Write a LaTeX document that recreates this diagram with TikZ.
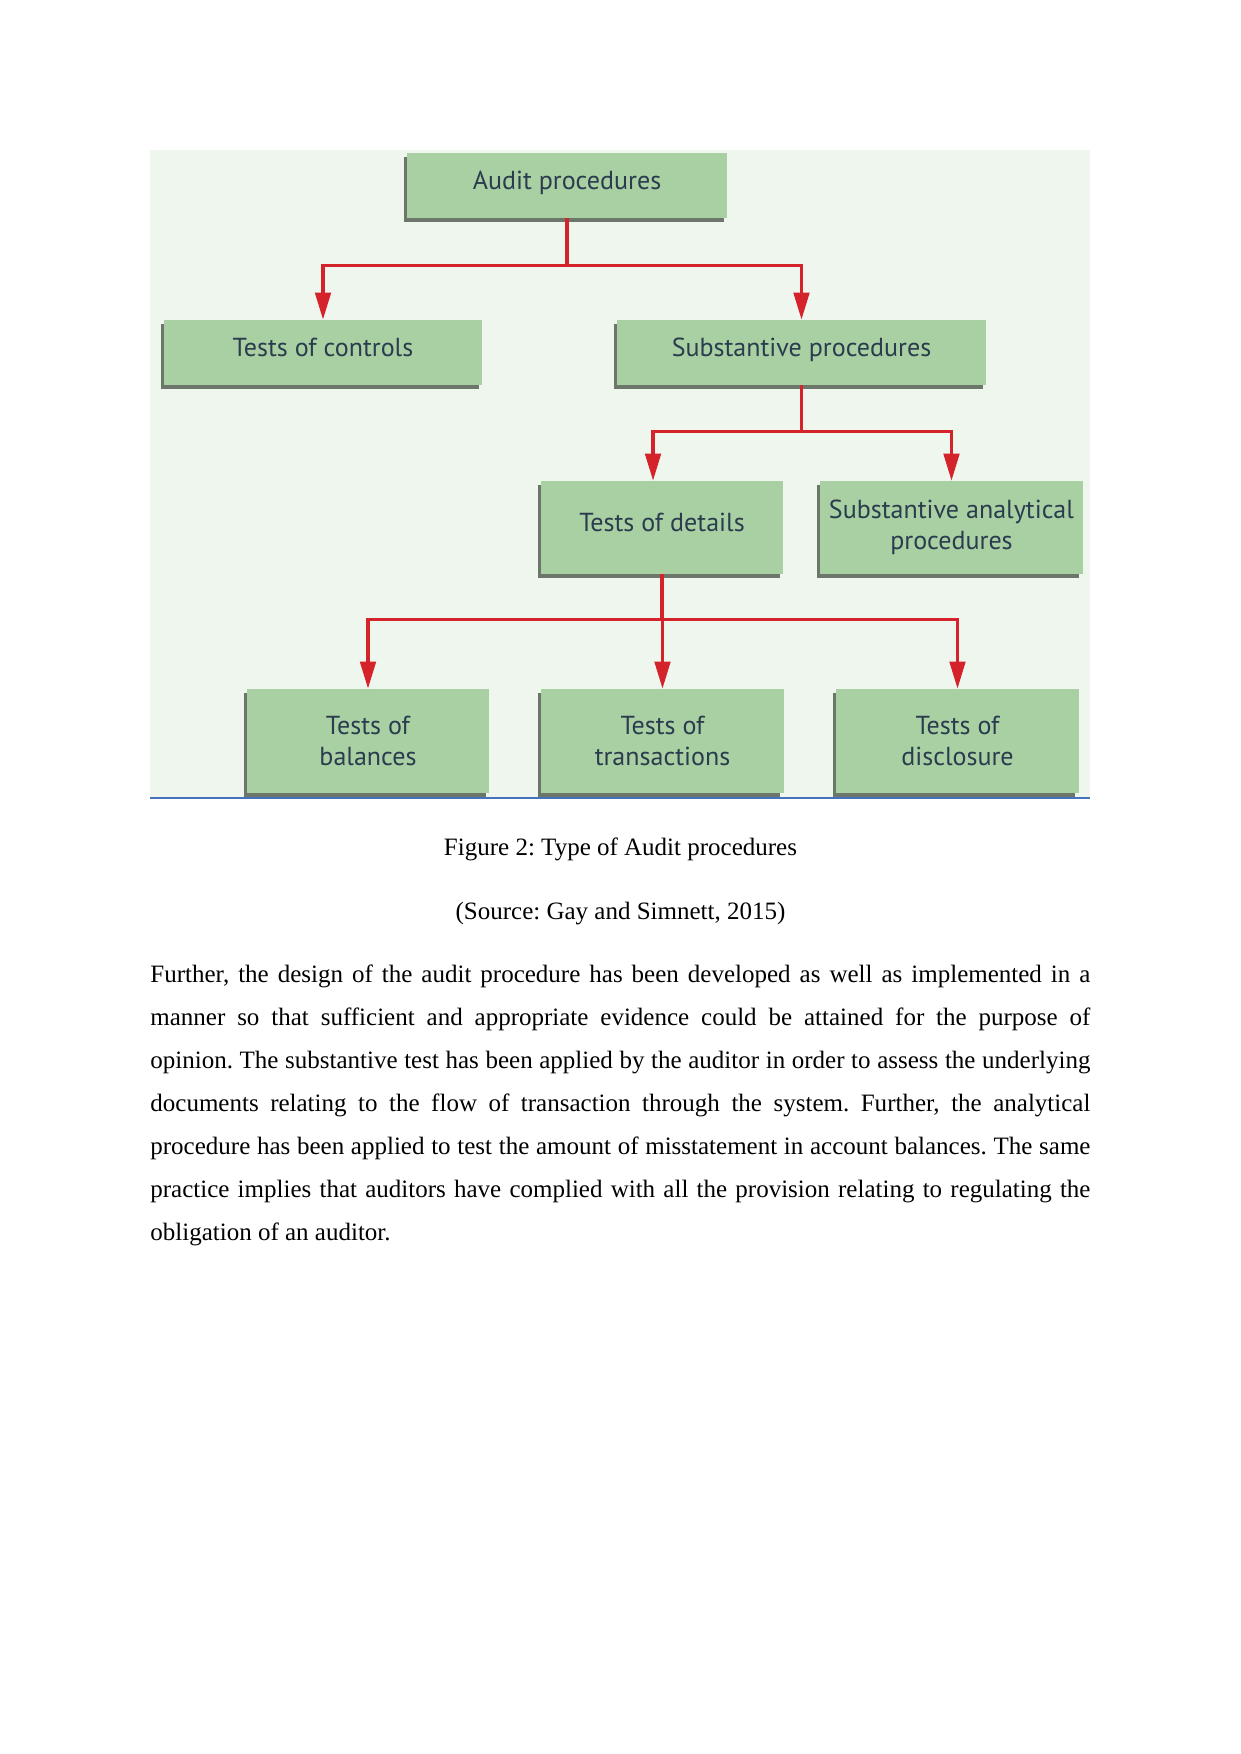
\documentclass[tikz,border=0pt]{standalone}
\usepackage{fontspec}
\setmainfont{Liberation Serif}
\newfontfamily\boxfont{PT Sans}
\usepackage{tikz}
\usetikzlibrary{arrows.meta, shadows}
\usepackage{xcolor}
\definecolor{clrBox} {RGB}{169,208,162}
\definecolor{clrPane}{RGB}{239,246,237}
\definecolor{clrShd} {RGB}{108,118,106}
\definecolor{clrArr} {RGB}{213, 35, 43}
\definecolor{clrTxt} {RGB}{ 42, 60, 78}
\definecolor{clrRule}{RGB}{ 70,115,190}
\tikzset{
  procbox/.style={rectangle, fill=clrBox, draw=none, text=clrTxt,
    font=\boxfont\fontsize{12.5}{14.8}\selectfont, align=center, inner sep=2pt,
    drop shadow={shadow xshift=-1.5pt, shadow yshift=-1.9pt, fill=clrShd, opacity=1}},
  oneline/.style={text height=9.5pt, text depth=5.5pt},
  conn/.style={-{Triangle[length=13pt,width=7.5pt]}, line width=1.5pt, color=clrArr},
  capnode/.style={font=\fontsize{12}{14}\selectfont, anchor=base, inner sep=0pt},
  paranode/.style={font=\fontsize{12}{20.64}\selectfont, text width=451.2pt,
    align=justify, anchor=base west, inner sep=0pt},
}

\begin{document}
\frenchspacing
\begin{tikzpicture}[x=0.48pt, y=-0.48pt]
\useasboundingbox (0,0) rectangle (1241,1754);
% figure panel
\fill[clrPane] (150,150) rectangle (1090,798);
\draw[clrRule, line width=0.6pt] (150,798) -- (1090,798);
% boxes
\node[procbox, oneline, minimum width=153.6pt, minimum height=31.2pt] (audit) at (567,185.5) {Audit procedures};
\node[procbox, oneline, minimum width=152.6pt, minimum height=31.2pt] (ctrl) at (323,352.5) {Tests of controls};
\node[procbox, oneline, minimum width=177.1pt, minimum height=31.2pt] (subst) at (801.5,352.5) {Substantive procedures};
\node[procbox, oneline, minimum width=116.2pt, minimum height=44.6pt] (detl) at (662,527.5) {Tests of details};
\node[procbox, minimum width=125.8pt, minimum height=44.6pt] (anly) at (951.5,527.5) {Substantive analytical\\procedures};
\node[procbox, minimum width=116.2pt, minimum height=49.9pt] (bal) at (368,741) {Tests of\\balances};
\node[procbox, minimum width=116.2pt, minimum height=49.9pt] (tra) at (662.5,741) {Tests of\\transactions};
\node[procbox, minimum width=116.2pt, minimum height=49.9pt] (dis) at (957.5,741) {Tests of\\disclosure};
% connectors
\draw[conn] (audit.south) -- ++(0,47) -| (ctrl.north);
\draw[conn] (audit.south) -- ++(0,47) -| (subst.north);
\draw[conn] (subst.south) -- ++(0,46) -| ([xshift=-4.3pt]detl.north);
\draw[conn] (subst.south) -- ++(0,46) -| (anly.north);
\draw[conn] (detl.south) -- ++(0,45) -| (bal.north);
\draw[conn] (detl.south) -- ++(0,45) -| (tra.north);
\draw[conn] (detl.south) -- ++(0,45) -| (dis.north);
% caption and text
\node[capnode] (cap) at (620.5,855) {Figure 2: Type of Audit procedures};
\node[capnode] (src) at (620.5,919) {(Source: Gay and Simnett, 2015)};
\node[paranode] (para) at (150,982.7) {\tolerance=9999\hbadness=10000
Further, the design of the audit procedure has been developed as well as implemented in a\linebreak
manner so that sufficient and appropriate evidence could be attained for the purpose of\linebreak
opinion. The substantive test has been applied by the auditor in order to assess the underlying\linebreak
documents relating to the flow of transaction through the system. Further, the analytical\linebreak
procedure has been applied to test the amount of misstatement in account balances. The same\linebreak
practice implies that auditors have complied with all the provision relating to regulating the\linebreak
obligation of an auditor.};
\end{tikzpicture}
\end{document}
